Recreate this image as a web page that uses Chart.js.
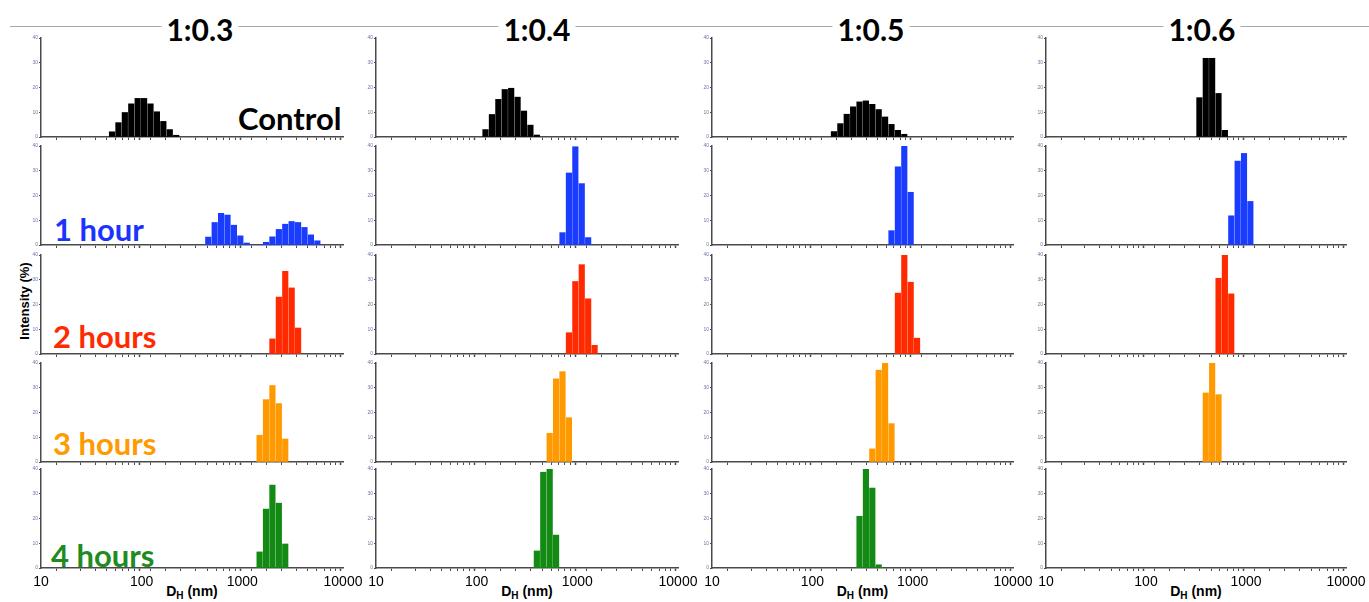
<!DOCTYPE html>
<html>
<head>
<meta charset="utf-8">
<script src="https://cdn.jsdelivr.net/npm/chart.js@4.4.1/dist/chart.umd.min.js"></script>
<style>
body { margin:0; background:#fff; width:1369px; height:602px; overflow:hidden; position:relative; font-family:'Liberation Sans', Arial, sans-serif; }
canvas { position:absolute; }
.rule { position:absolute; left:10px; top:26px; width:1359px; height:1px; background:#a8a8a8; }
.ttl { position:absolute; top:14px; font:700 30px Lato, sans-serif; line-height:30px; background:#fff; padding:0 5px; transform:translateX(-50%); color:#000; }
.rlab { position:absolute; font:700 31px Lato, sans-serif; line-height:30px; white-space:nowrap; }
.xt { position:absolute; top:583px; font:700 14px 'Liberation Sans', Arial, sans-serif; transform:translateX(-50%); white-space:nowrap; }
.xt sub { font-size:10px; vertical-align:-3px; }
.yt { position:absolute; left:24px; top:301px; font:700 13px 'Liberation Sans', Arial, sans-serif; transform:translate(-50%,-50%) rotate(-90deg); white-space:nowrap; }
</style>
</head>
<body>
<div class="rule"></div>
<div class="yt">Intensity (%)</div>
<script>
// titulos y etiquetas
var colTitles = ['1:0.3', '1:0.4', '1:0.5', '1:0.6'];
var rowLabels = ['Control', '1 hour', '2 hours', '3 hours', '4 hours'];
var rowColors = ['#000000', '#1a3cff', '#ff2a00', '#ff9900', '#138a13'];
var labelColors = ['#000000', '#1a33ff', '#ff2a00', '#ff9a00', '#1e8c1e'];
var xTickLabels = [10, 100, 1000, 10000];
var yTickValues = [0, 10, 20, 30, 40];

// ── DATOS: tamaño (nm) e intensidad (%) por fila (Control, 1h, 2h, 3h, 4h) ──
var sizes03 = [
    [50.75, 58.77, 68.06, 78.82, 91.28, 105.7, 122.4, 141.8, 164.2, 190.1, 220.2],
    [458.7, 531.2, 615.1, 712.4, 825.0, 955.4, 1106, 1281, 1484, 1718, 1990, 2305, 2669, 3091, 3580, 4145, 4801, 5560],
    [1990, 2305, 2669, 3091, 3580],
    [1484, 1718, 1990, 2305, 2669],
    [1484, 1718, 1990, 2305, 2669]
];
var int03 = [
    [2.1, 5.8, 9.9, 13.4, 15.6, 15.6, 13.4, 10.2, 6.3, 3.0, 0.7],
    [3.2, 9.1, 12.8, 12.1, 8.0, 3.7, 0.8, 0, 0, 1.1, 3.3, 6.3, 8.4, 9.5, 9.1, 7.1, 4.1, 1.7],
    [6.1, 23.0, 33.4, 26.7, 10.5],
    [10.8, 25.2, 30.9, 23.6, 9.3],
    [6.5, 23.8, 33.5, 26.2, 9.7]
];

var sizes04 = [
    [122.4, 141.8, 164.2, 190.1, 220.2, 255.0, 295.3, 342.0, 396.1],
    [712.4, 825.0, 955.4, 1106, 1281],
    [825.0, 955.4, 1106, 1281, 1484],
    [531.2, 615.1, 712.4, 825.0],
    [396.1, 458.7, 531.2, 615.1]
];
var int04 = [
    [3.0, 9.1, 15.2, 19.2, 19.7, 16.1, 10.5, 4.8, 0.8],
    [5.0, 29.1, 39.7, 24.8, 3.0],
    [8.6, 29.3, 36.1, 22.3, 3.5],
    [11.6, 33.6, 36.5, 17.9],
    [6.9, 38.7, 40.0, 13.3]
];

var sizes05 = [
    [164.2, 190.1, 220.2, 255.0, 295.3, 342.0, 396.1, 458.7, 531.2, 615.1, 712.4, 825.0],
    [615.1, 712.4, 825.0, 955.4],
    [712.4, 825.0, 955.4, 1106],
    [396.1, 458.7, 531.2, 615.1],
    [295.3, 342.0, 396.1, 458.7]
];
var int05 = [
    [2.2, 5.4, 9.2, 12.2, 14.2, 14.6, 13.2, 11.1, 8.1, 5.1, 2.7, 1.1],
    [5.8, 31.6, 40.0, 21.3],
    [24.6, 40.0, 29.0, 6.4],
    [5.3, 37.1, 40.0, 15.5],
    [20.9, 40.0, 32.3, 1.3]
];

var sizes06 = [
    [342.0, 396.1, 458.7, 531.2, 615.1],
    [712.4, 825.0, 955.4, 1106],
    [531.2, 615.1, 712.4],
    [396.1, 458.7, 531.2],
    []
];
var int06 = [
    [15.9, 31.8, 31.8, 17.6, 2.7],
    [11.8, 33.9, 37.0, 17.6],
    [30.6, 40.0, 24.3],
    [27.9, 40.0, 27.2],
    []
];

var allSizes = [sizes03, sizes04, sizes05, sizes06];
var allInts = [int03, int04, int05, int06];

// ── GEOMETRIA ──
var plotLeft = [41, 376, 712, 1046];
var plotRight = [343, 678, 1013, 1346];
var plotTop = [38, 146, 255, 363, 469];
var plotH = 99;
var yAxisW = 14;
var padTop = 4;
var padRight = 26;
var titleX = [200, 537, 871, 1202];
var rowLabelPos = [[238, 103], [54, 214], [53, 321], [53, 428], [51, 540]];
var fontFam = "'Liberation Sans', Arial, sans-serif";

colTitles.forEach(function(t, c) {
    var d = document.createElement('div');
    d.className = 'ttl';
    d.style.left = titleX[c] + 'px';
    d.textContent = t;
    document.body.appendChild(d);

    var x = document.createElement('div');
    x.className = 'xt';
    x.style.left = ((plotLeft[c] + plotRight[c]) / 2) + 'px';
    x.innerHTML = 'D<sub>H</sub> (nm)';
    document.body.appendChild(x);
});

rowLabels.forEach(function(t, r) {
    var d = document.createElement('div');
    d.className = 'rlab';
    d.style.left = rowLabelPos[r][0] + 'px';
    d.style.top = rowLabelPos[r][1] + 'px';
    d.style.color = labelColors[r];
    d.textContent = t;
    document.body.appendChild(d);
});

for (var c = 0; c < 4; c++) {
    for (var r = 0; r < 5; r++) {
        (function(c, r) {
            var bottom = (r === 4);
            var axisH = bottom ? 26 : 6;
            var cv = document.createElement('canvas');
            var w = plotRight[c] - plotLeft[c] + yAxisW + padRight;
            var h = padTop + plotH + axisH;
            cv.width = w; cv.height = h;
            cv.style.width = w + 'px'; cv.style.height = h + 'px';
            cv.style.left = (plotLeft[c] - yAxisW) + 'px';
            cv.style.top = (plotTop[r] - padTop) + 'px';
            document.body.appendChild(cv);

            var pts = allSizes[c][r].map(function(s, i) { return { x: s, y: allInts[c][r][i] }; });

            new Chart(cv, {
                type: 'bar',
                data: {
                    datasets: [{
                        data: pts,
                        backgroundColor: rowColors[r],
                        borderWidth: 0,
                        barThickness: 'flex', // ancho segun bins vecinos
                        barPercentage: 0.86,
                        categoryPercentage: 1
                    }]
                },
                options: {
                    responsive: false,
                    animation: false,
                    devicePixelRatio: 1,
                    layout: { padding: { top: padTop, right: padRight, left: 0, bottom: 0 } },
                    plugins: { legend: { display: false }, tooltip: { enabled: false } },
                    scales: {
                        x: {
                            type: 'logarithmic',
                            min: 10, max: 10000,
                            border: { display: true, color: '#4a4a4a', width: 1.5 },
                            grid: {
                                drawOnChartArea: false, drawTicks: true, tickLength: 3,
                                tickColor: '#4a4a4a',
                                tickWidth: function(ctx) { return xTickLabels.indexOf(ctx.tick && ctx.tick.value) >= 0 ? 1.5 : 1; }
                            },
                            ticks: {
                                autoSkip: false, maxRotation: 0, minRotation: 0, padding: 3,
                                color: '#000', font: { family: fontFam, size: 14 },
                                callback: function(v) { return (bottom && xTickLabels.indexOf(v) >= 0) ? String(v) : ''; }
                            },
                            afterFit: function(s) { s.height = axisH; s.paddingLeft = 0; s.paddingRight = 0; }
                        },
                        y: {
                            min: 0, max: 40,
                            border: { display: true, color: '#4a4a4a', width: 1.5 },
                            grid: { drawOnChartArea: false, drawTicks: true, tickLength: 2, tickColor: '#4a4a4a' },
                            afterBuildTicks: function(s) { s.ticks = yTickValues.map(function(v) { return { value: v }; }); },
                            ticks: { padding: 1, color: '#6a78a8', font: { family: fontFam, size: 5 } },
                            afterFit: function(s) { s.width = yAxisW; }
                        }
                    }
                }
            });
        })(c, r);
    }
}
</script>
</body>
</html>
